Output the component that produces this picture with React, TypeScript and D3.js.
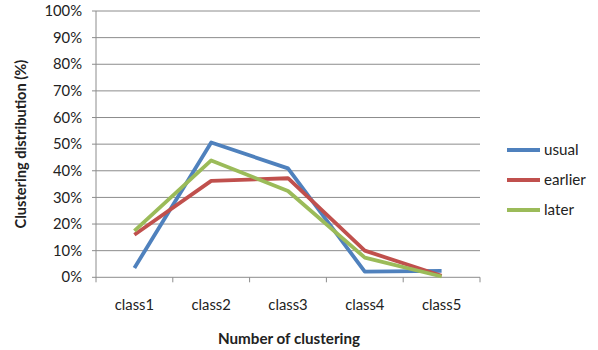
import React from "react";
import * as d3 from "d3";

const categories = ["class1", "class2", "class3", "class4", "class5"];
const seriesNames = ["usual", "earlier", "later"];
const usual = [3.5, 50.6, 40.9, 2.1, 2.4];
const earlier = [16.0, 36.2, 37.2, 10.0, 0.6];
const later = [17.4, 43.9, 32.4, 7.4, 0.3];
const yTicks = [0, 10, 20, 30, 40, 50, 60, 70, 80, 90, 100];
const colors = ["#4F81BD", "#C0504D", "#9BBB59"];

const W = 598, H = 350;
const left = 96, right = 480, top = 11, bottom = 277.3;
const font = "Lato, 'Open Sans', sans-serif";

export default function App() {
  const x = d3.scaleBand().domain(categories).range([left, right]);
  const y = d3.scaleLinear().domain([0, 100]).range([bottom, top]);
  const line = d3
    .line<number>()
    .x((_, i) => (x(categories[i]) as number) + x.bandwidth() / 2)
    .y((d) => y(d));
  const data = [usual, earlier, later];
  const boundaries = d3.range(categories.length + 1).map((i) => left + i * x.step());
  return (
    <svg width={W} height={H} style={{ position: "absolute", left: 0, top: 0, background: "#fff" }}>
      {yTicks.map((t) => (
        <g key={t}>
          <line x1={left - 4} x2={right} y1={y(t)} y2={y(t)} stroke="#8c8c8c" strokeWidth={1} />
          <text x={82} y={y(t)} dy="0.35em" textAnchor="end" fontFamily={font} fontSize={14.8} fill="#222">
            {t}%
          </text>
        </g>
      ))}
      <line x1={left} x2={left} y1={top} y2={bottom} stroke="#8c8c8c" strokeWidth={1} />
      {boundaries.map((bx, i) => (
        <line key={i} x1={bx} x2={bx} y1={bottom} y2={bottom + 5} stroke="#8c8c8c" strokeWidth={1} />
      ))}
      {categories.map((c) => (
        <text key={c} x={(x(c) as number) + x.bandwidth() / 2} y={310} textAnchor="middle" fontFamily={font} fontSize={14.8} fill="#222">
          {c}
        </text>
      ))}
      {data.map((d, i) => (
        <path key={i} d={line(d) as string} fill="none" stroke={colors[i]} strokeWidth={3.8} strokeLinejoin="round" />
      ))}
      {seriesNames.map((n, i) => (
        <g key={n}>
          <line x1={507} x2={540} y1={150 + i * 30} y2={150 + i * 30} stroke={colors[i]} strokeWidth={3.8} />
          <text x={544} y={150 + i * 30} dy="0.35em" fontFamily={font} fontSize={15.2} fill="#222">
            {n}
          </text>
        </g>
      ))}
      <text x={289} y={344} textAnchor="middle" fontFamily={font} fontSize={15.2} fontWeight="bold" fill="#222">
        Number of clustering
      </text>
      <text transform={`translate(26,${(top + bottom) / 2}) rotate(-90)`} textAnchor="middle" fontFamily={font} fontSize={14.6} fontWeight="bold" fill="#222">
        Clustering distribution (%)
      </text>
    </svg>
  );
}
